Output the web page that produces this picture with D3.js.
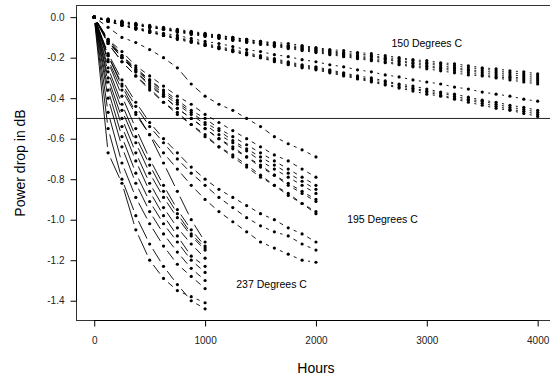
<!DOCTYPE html>
<html>
<head>
<meta charset="utf-8">
<script src="https://cdn.jsdelivr.net/npm/d3@7"></script>
<style>
  body { margin: 0; background: #fff; }
  text { font-family: "Liberation Sans", Arial, sans-serif; }
</style>
</head>
<body>
<div id="chart"></div>
<script>
// measurement times (hours)
var hours150 = [0,125,250,375,500,625,750,875,1000,1125,1250,1375,1500,1625,1750,1875,2000,
                2125,2250,2375,2500,2625,2750,2875,3000,3125,3250,3375,3500,3625,3750,3875,4000];
var hours195 = [0,125,250,375,500,625,750,875,1000,1125,1250,1375,1500,1625,1750,1875,2000];
var hours237 = [0,125,250,375,500,625,750,875,1000];

// power drop (dB) per unit
var drop150 = [
  [0,-0.01,-0.02,-0.03,-0.04,-0.05,-0.06,-0.07,-0.08,-0.09,-0.10,-0.11,-0.12,-0.125,-0.13,-0.14,-0.15,-0.16,-0.165,-0.175,-0.18,-0.19,-0.20,-0.21,-0.215,-0.225,-0.23,-0.24,-0.25,-0.255,-0.265,-0.27,-0.28],
  [0,-0.015,-0.025,-0.035,-0.045,-0.055,-0.065,-0.075,-0.085,-0.09,-0.10,-0.11,-0.12,-0.13,-0.14,-0.145,-0.155,-0.165,-0.175,-0.18,-0.19,-0.20,-0.205,-0.215,-0.225,-0.23,-0.24,-0.25,-0.255,-0.265,-0.275,-0.28,-0.29],
  [0,-0.01,-0.025,-0.035,-0.045,-0.055,-0.065,-0.075,-0.085,-0.095,-0.105,-0.115,-0.125,-0.135,-0.145,-0.15,-0.16,-0.17,-0.18,-0.19,-0.195,-0.205,-0.215,-0.225,-0.23,-0.24,-0.25,-0.26,-0.265,-0.275,-0.285,-0.29,-0.30],
  [0,-0.015,-0.025,-0.035,-0.05,-0.06,-0.07,-0.08,-0.09,-0.10,-0.11,-0.12,-0.13,-0.14,-0.145,-0.155,-0.165,-0.175,-0.185,-0.195,-0.205,-0.21,-0.22,-0.23,-0.24,-0.25,-0.255,-0.265,-0.275,-0.285,-0.295,-0.30,-0.31],
  [0,-0.015,-0.025,-0.04,-0.05,-0.06,-0.07,-0.08,-0.09,-0.10,-0.11,-0.12,-0.13,-0.14,-0.15,-0.16,-0.17,-0.18,-0.19,-0.20,-0.21,-0.22,-0.23,-0.24,-0.245,-0.255,-0.265,-0.275,-0.285,-0.295,-0.30,-0.31,-0.32],
  [0,-0.015,-0.03,-0.04,-0.05,-0.06,-0.075,-0.085,-0.095,-0.105,-0.115,-0.125,-0.135,-0.145,-0.155,-0.165,-0.175,-0.185,-0.195,-0.205,-0.215,-0.225,-0.235,-0.245,-0.255,-0.265,-0.275,-0.285,-0.29,-0.30,-0.31,-0.32,-0.33],
  [0,-0.02,-0.035,-0.05,-0.065,-0.08,-0.09,-0.105,-0.12,-0.13,-0.145,-0.16,-0.17,-0.185,-0.195,-0.21,-0.22,-0.235,-0.245,-0.26,-0.27,-0.285,-0.295,-0.31,-0.32,-0.33,-0.345,-0.355,-0.37,-0.38,-0.39,-0.405,-0.415],
  [0,-0.02,-0.04,-0.055,-0.07,-0.085,-0.10,-0.115,-0.13,-0.145,-0.16,-0.175,-0.19,-0.205,-0.22,-0.235,-0.245,-0.26,-0.275,-0.29,-0.30,-0.315,-0.33,-0.34,-0.355,-0.37,-0.38,-0.395,-0.41,-0.42,-0.435,-0.445,-0.46],
  [0,-0.02,-0.04,-0.055,-0.07,-0.09,-0.105,-0.12,-0.135,-0.15,-0.165,-0.18,-0.195,-0.21,-0.225,-0.24,-0.25,-0.265,-0.28,-0.295,-0.31,-0.32,-0.335,-0.35,-0.365,-0.375,-0.39,-0.405,-0.415,-0.43,-0.445,-0.455,-0.47],
  [0,-0.02,-0.04,-0.055,-0.075,-0.09,-0.105,-0.12,-0.14,-0.155,-0.17,-0.185,-0.20,-0.215,-0.23,-0.245,-0.255,-0.27,-0.285,-0.30,-0.315,-0.33,-0.345,-0.355,-0.37,-0.385,-0.40,-0.41,-0.425,-0.44,-0.455,-0.465,-0.48],
  [0,-0.02,-0.04,-0.06,-0.075,-0.09,-0.11,-0.125,-0.14,-0.155,-0.17,-0.185,-0.20,-0.22,-0.235,-0.25,-0.26,-0.275,-0.29,-0.305,-0.32,-0.335,-0.35,-0.365,-0.38,-0.39,-0.405,-0.42,-0.435,-0.45,-0.46,-0.475,-0.49]
];

var drop195 = [
  [0,-0.05,-0.10,-0.125,-0.16,-0.20,-0.25,-0.33,-0.39,-0.43,-0.46,-0.50,-0.54,-0.59,-0.625,-0.655,-0.69],
  [0,-0.11,-0.17,-0.24,-0.29,-0.34,-0.39,-0.43,-0.48,-0.52,-0.56,-0.60,-0.64,-0.68,-0.71,-0.75,-0.79],
  [0,-0.11,-0.19,-0.25,-0.31,-0.36,-0.41,-0.46,-0.50,-0.55,-0.59,-0.63,-0.67,-0.71,-0.75,-0.79,-0.83],
  [0,-0.12,-0.19,-0.26,-0.31,-0.37,-0.42,-0.47,-0.52,-0.56,-0.61,-0.65,-0.69,-0.73,-0.77,-0.81,-0.85],
  [0,-0.12,-0.20,-0.26,-0.32,-0.38,-0.43,-0.48,-0.53,-0.58,-0.62,-0.66,-0.71,-0.75,-0.79,-0.83,-0.87],
  [0,-0.12,-0.20,-0.27,-0.33,-0.39,-0.45,-0.50,-0.55,-0.60,-0.64,-0.69,-0.73,-0.78,-0.82,-0.86,-0.90],
  [0,-0.12,-0.20,-0.27,-0.34,-0.39,-0.45,-0.50,-0.55,-0.60,-0.65,-0.69,-0.74,-0.78,-0.83,-0.87,-0.91],
  [0,-0.13,-0.22,-0.29,-0.35,-0.42,-0.47,-0.53,-0.58,-0.64,-0.68,-0.73,-0.78,-0.83,-0.87,-0.92,-0.96],
  [0,-0.13,-0.22,-0.29,-0.36,-0.42,-0.48,-0.53,-0.59,-0.64,-0.69,-0.74,-0.79,-0.83,-0.88,-0.92,-0.97],
  [0,-0.18,-0.31,-0.42,-0.52,-0.60,-0.67,-0.74,-0.80,-0.85,-0.89,-0.93,-0.97,-1.00,-1.04,-1.07,-1.11],
  [0,-0.19,-0.33,-0.44,-0.54,-0.62,-0.70,-0.77,-0.83,-0.89,-0.94,-0.99,-1.03,-1.06,-1.08,-1.12,-1.15],
  [0,-0.21,-0.36,-0.48,-0.58,-0.67,-0.75,-0.83,-0.90,-0.96,-1.01,-1.06,-1.11,-1.14,-1.17,-1.20,-1.21]
];

var drop237 = [
  [0,-0.67,-0.82,-1.05,-1.20,-1.29,-1.35,-1.38,-1.41],
  [0,-0.55,-0.80,-0.98,-1.12,-1.23,-1.32,-1.40,-1.44],
  [0,-0.47,-0.72,-0.89,-1.02,-1.13,-1.22,-1.28,-1.34],
  [0,-0.40,-0.64,-0.82,-0.96,-1.07,-1.16,-1.24,-1.30],
  [0,-0.36,-0.59,-0.77,-0.91,-1.02,-1.11,-1.20,-1.26],
  [0,-0.32,-0.54,-0.71,-0.86,-0.98,-1.08,-1.18,-1.23],
  [0,-0.30,-0.50,-0.67,-0.82,-0.94,-1.04,-1.12,-1.19],
  [0,-0.27,-0.46,-0.62,-0.77,-0.89,-0.99,-1.08,-1.15],
  [0,-0.25,-0.43,-0.59,-0.73,-0.86,-0.97,-1.07,-1.14],
  [0,-0.22,-0.39,-0.55,-0.70,-0.83,-0.95,-1.05,-1.13],
  [0,-0.19,-0.34,-0.47,-0.58,-0.72,-0.86,-1.00,-1.11]
];

var xTicks = [0, 1000, 2000, 3000, 4000];
var yTicks = [0, -0.2, -0.4, -0.6, -0.8, -1.0, -1.2, -1.4];
var refLevel = -0.5;
var groupLabels = [
  { text: "150 Degrees C", hours: 3000, drop: -0.13 },
  { text: "195 Degrees C", hours: 2600, drop: -1.0 },
  { text: "237 Degrees C", hours: 1600, drop: -1.32 }
];

// set the dimensions of the graph
var width = 550, height = 378;
var plot = { left: 76.5, right: 555.4, top: 5.5, bottom: 320.5 };

var svg = d3.select("#chart")
    .append("svg")
    .attr("width", width)
    .attr("height", height)
    .style("display", "block");

var x = d3.scaleLinear().domain([-160, 4160]).range([plot.left, plot.right]);
var y = d3.scaleLinear().domain([-1.4976, 0.0576]).range([plot.bottom, plot.top]);

// plot box (right side runs off the page)
svg.append("rect")
    .attr("x", plot.left)
    .attr("y", plot.top)
    .attr("width", plot.right - plot.left)
    .attr("height", plot.bottom - plot.top)
    .attr("fill", "none")
    .attr("stroke", "#333")
    .attr("stroke-width", 1);

// Y axis
var yAxis = svg.append("g")
    .attr("transform", "translate(" + plot.left + ",0)")
    .call(d3.axisLeft(y).tickValues(yTicks).tickSize(6).tickPadding(6)
        .tickFormat(function (d) { return d.toFixed(1); }));
yAxis.select(".domain").remove();
yAxis.append("line")
    .attr("y1", y(yTicks[0])).attr("y2", y(yTicks[yTicks.length - 1]))
    .attr("stroke", "#000");

// X axis
var xAxis = svg.append("g")
    .attr("transform", "translate(0," + plot.bottom + ")")
    .call(d3.axisBottom(x).tickValues(xTicks).tickSize(6).tickPadding(10)
        .tickFormat(d3.format("d")));
xAxis.select(".domain").remove();
xAxis.append("line")
    .attr("x1", x(xTicks[0])).attr("x2", x(xTicks[xTicks.length - 1]))
    .attr("stroke", "#000");

svg.selectAll(".tick text")
    .attr("font-size", 10)
    .attr("font-family", "Liberation Sans, Arial, sans-serif")
    .attr("fill", "#222");
svg.selectAll(".tick line").attr("stroke", "#000");

// axis titles
svg.append("text")
    .attr("transform", "translate(25," + ((plot.top + plot.bottom) / 2) + ") rotate(-90)")
    .attr("text-anchor", "middle")
    .attr("font-size", 14)
    .text("Power drop in dB");

svg.append("text")
    .attr("x", (plot.left + plot.right) / 2)
    .attr("y", 373)
    .attr("text-anchor", "middle")
    .attr("font-size", 14)
    .text("Hours");

// reference line at -0.5 dB
svg.append("line")
    .attr("x1", plot.left).attr("x2", width)
    .attr("y1", y(refLevel)).attr("y2", y(refLevel))
    .attr("stroke", "#222");

// units: points joined by lines with a gap round each point
var units = [];
drop150.forEach(function (v) { units.push({ hours: hours150, drop: v }); });
drop195.forEach(function (v) { units.push({ hours: hours195, drop: v }); });
drop237.forEach(function (v) { units.push({ hours: hours237, drop: v }); });

var gap = 6;
var segs = [], pts = [];
units.forEach(function (u) {
    if (u.hours.length !== u.drop.length) throw new Error("length mismatch " + u.drop.length);
    var p = u.hours.map(function (h, i) { return [x(h), y(u.drop[i])]; });
    p.forEach(function (q) { pts.push(q); });
    for (var i = 1; i < p.length; i++) {
        var dx = p[i][0] - p[i - 1][0], dy = p[i][1] - p[i - 1][1];
        var len = Math.sqrt(dx * dx + dy * dy);
        if (len <= 2 * gap) continue;
        var ux = dx / len, uy = dy / len;
        segs.push([p[i - 1][0] + ux * gap, p[i - 1][1] + uy * gap,
                   p[i][0] - ux * gap, p[i][1] - uy * gap]);
    }
});

svg.append("g").selectAll("line")
    .data(segs)
    .enter()
    .append("line")
    .attr("x1", function (d) { return d[0]; })
    .attr("y1", function (d) { return d[1]; })
    .attr("x2", function (d) { return d[2]; })
    .attr("y2", function (d) { return d[3]; })
    .attr("stroke", "#000")
    .attr("stroke-width", 0.9);

svg.append("g").selectAll("circle")
    .data(pts)
    .enter()
    .append("circle")
    .attr("cx", function (d) { return d[0]; })
    .attr("cy", function (d) { return d[1]; })
    .attr("r", 1.6)
    .attr("fill", "#000");

// group labels
svg.append("g").selectAll("text")
    .data(groupLabels)
    .enter()
    .append("text")
    .attr("x", function (d) { return x(d.hours); })
    .attr("y", function (d) { return y(d.drop); })
    .attr("dy", "0.35em")
    .attr("text-anchor", "middle")
    .attr("font-size", 10.5)
    .text(function (d) { return d.text; });
</script>
</body>
</html>
